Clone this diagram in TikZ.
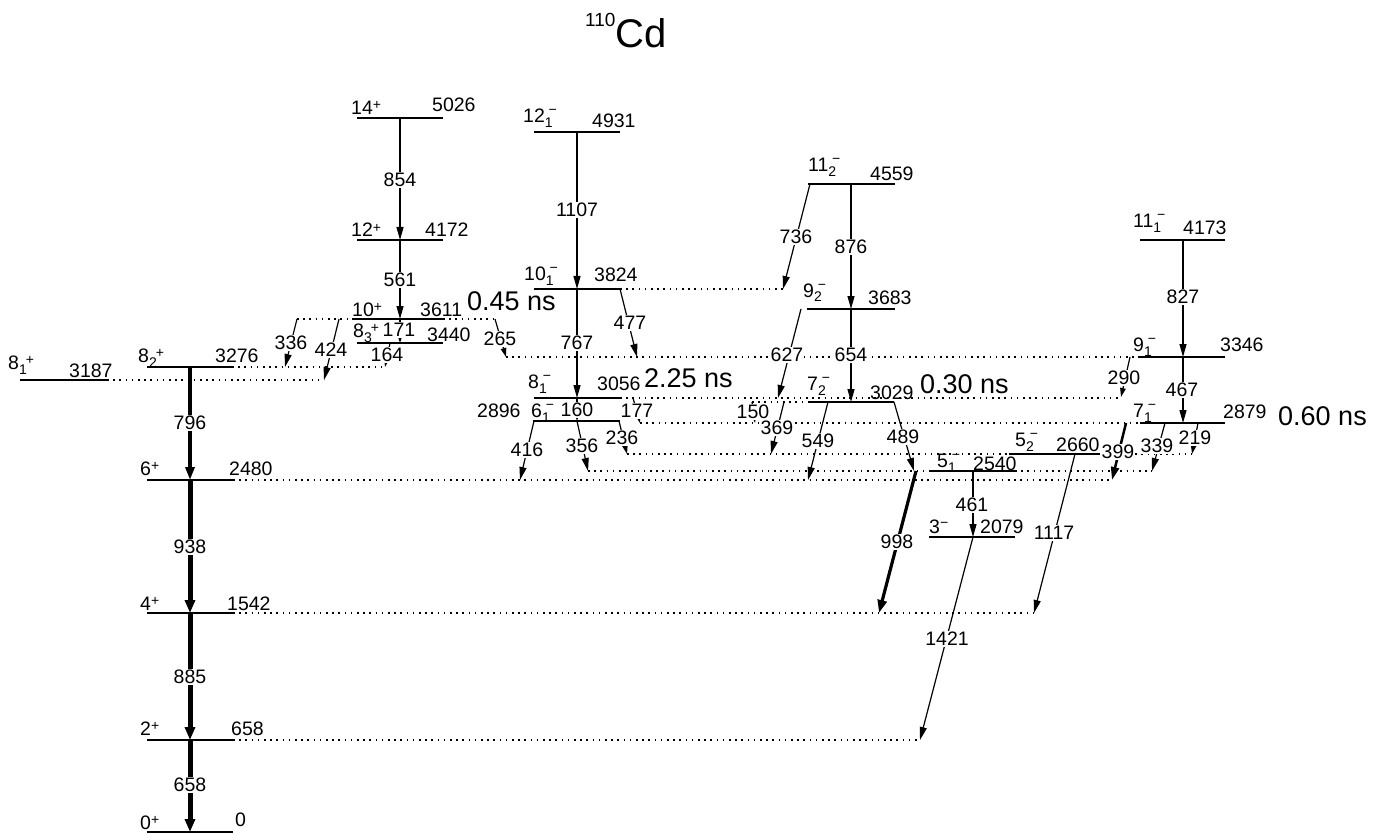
\documentclass[tikz,border=0pt]{standalone}
\usepackage{fontspec}
\setmainfont{Liberation Sans}
\usetikzlibrary{arrows.meta}
\newcommand\lbl{\fontsize{19.5}{21}\selectfont}
\newcommand\sbs[1]{\raisebox{-5pt}{\fontsize{14}{14}\selectfont #1}}
\newcommand\pl{\raisebox{5pt}{\fontsize{14}{14}\selectfont +}}
\newcommand\mi{\raisebox{8pt}{\fontsize{14}{14}\selectfont −}}
\newcommand\spp[2]{#1\sbs{#2}\kern-1pt\pl}
\newcommand\spm[2]{#1\sbs{#2}\kern-4pt\mi}
\tikzset{
  lvl/.style={line width=1.4pt},
  ext/.style={line width=1.3pt, dash pattern=on 1.6pt off 4.6pt},
  tr/.style={line width=1.2pt, -{Triangle[length=13pt,width=7pt]}},
  trs/.style={line width=1.2pt, -{Triangle[length=9pt,width=5.5pt]}},
  trII/.style={line width=2.5pt, -{Triangle[length=13pt,width=8pt]}},
  trIII/.style={line width=3.2pt, -{Triangle[length=13pt,width=9pt]}},
  trV/.style={line width=5pt, -{Triangle[length=13pt,width=10pt]}},
  lab/.style={fill=white, inner sep=1pt, font=\lbl},
  txt/.style={anchor=base west, inner sep=0pt, font=\lbl},
  big/.style={anchor=base west, inner sep=0pt, font=\fontsize{27}{29}\selectfont},
}
\begin{document}
\begin{tikzpicture}[x=1pt, y=-1pt]
\useasboundingbox (0,0) rectangle (1386,834);
% title
\node[anchor=base west, inner sep=0pt] (title) at (585,48) {\raisebox{21pt}{\fontsize{19}{19}\selectfont 110}\fontsize{40}{40}\selectfont Cd};

% dotted level extensions
\draw[ext] (107,380) -- (324,380);
\draw[ext] (232,367) -- (385,367);
\draw[ext] (297,319) -- (352,319);
\draw[ext] (443,319) -- (495,319);
\draw[ext] (506,357) -- (1138,357);
\draw[ext] (620,289) -- (783,289);
\draw[ext] (620,398) -- (1121,398);
\draw[ext] (752,402) -- (808,402);
\draw[ext] (640,423) -- (1140,423);
\draw[ext] (627,454) -- (1009,454);
\draw[ext] (1098,454) -- (1192,454);
\draw[ext] (588,471) -- (930,471);
\draw[ext] (1015,471) -- (1152,471);
\draw[ext] (233,480) -- (1112,480);
\draw[ext] (233,613) -- (1034,613);
\draw[ext] (233,740) -- (920,740);

% levels
\draw[lvl] (147,832) -- (233,832);
\draw[lvl] (147,740) -- (233,740);
\draw[lvl] (147,613) -- (233,613);
\draw[lvl] (147,480) -- (233,480);
\draw[lvl] (147,367) -- (232,367);
\draw[lvl] (20,380) -- (107,380);
\draw[lvl] (357,343) -- (443,343);
\draw[lvl] (352,319) -- (443,319);
\draw[lvl] (357,240) -- (443,240);
\draw[lvl] (357,118) -- (443,118);
\draw[lvl] (534,132) -- (620,132);
\draw[lvl] (534,289) -- (620,289);
\draw[lvl] (534,398) -- (620,398);
\draw[lvl] (533,421) -- (620,421);
\draw[lvl] (808,184) -- (895,184);
\draw[lvl] (807,309) -- (895,309);
\draw[lvl] (808,402) -- (894,402);
\draw[lvl] (930,471) -- (1015,471);
\draw[lvl] (929,537) -- (1015,537);
\draw[lvl] (1009,454) -- (1098,454);
\draw[lvl] (1140,240) -- (1225,240);
\draw[lvl] (1138,357) -- (1225,357);
\draw[lvl] (1140,423) -- (1225,423);

% level labels
\node[txt] (s0) at (140,829) {0\pl};      \node[txt] (e0) at (235,826) {0};
\node[txt] (s2) at (140,735) {2\pl};      \node[txt] (e2) at (231,735) {658};
\node[txt] (s4) at (140,610) {4\pl};      \node[txt] (e4) at (227,610) {1542};
\node[txt] (s6) at (140,475) {6\pl};      \node[txt] (e6) at (229,475) {2480};
\node[txt] (s82p) at (138,362) {\spp{8}{2}}; \node[txt] (e82p) at (215,362) {3276};
\node[txt] (s81p) at (8,369) {\spp{8}{1}};   \node[txt] (e81p) at (69,377) {3187};
\node[txt] (s83p) at (353,337) {\spp{8}{3}}; \node[txt] (e83p) at (427,341) {3440};
\node[txt] (s10p) at (352,316) {10\pl};   \node[txt] (e10p) at (420,316) {3611};
\node[big] (t10p) at (467,310) {0.45 ns};
\node[txt] (s12p) at (351,237) {12\pl};   \node[txt] (e12p) at (425,237) {4172};
\node[txt] (s14p) at (351,115) {14\pl};   \node[txt] (e14p) at (432,112) {5026};
\node[txt] (s121m) at (523,123) {\spm{12}{1}}; \node[txt] (e121m) at (592,128) {4931};
\node[txt] (s101m) at (524,280) {\spm{10}{1}}; \node[txt] (e101m) at (594,282) {3824};
\node[txt] (s81m) at (528,388) {\spm{8}{1}};   \node[txt] (e81m) at (597,390) {3056};
\node[big] (t81m) at (644,387) {2.25 ns};
\node[txt] (s61m) at (531,417) {\spm{6}{1}};   \node[txt] (e61m) at (477,417) {2896};
\node[txt] (s112m) at (808,172) {\spm{11}{2}}; \node[txt] (e112m) at (870,181) {4559};
\node[txt] (s92m) at (803,297) {\spm{9}{2}};   \node[txt] (e92m) at (868,305) {3683};
\node[txt] (s72m) at (807,390) {\spm{7}{2}};   \node[txt] (e72m) at (870,399) {3029};
\node[big] (t72m) at (920,393) {0.30 ns};
\node[txt] (s51m) at (937,467) {\spm{5}{1}};   \node[txt] (e51m) at (973,470) {2540};
\node[txt] (s3m) at (929,533) {3\raisebox{6pt}{\fontsize{14}{14}\selectfont −}}; \node[txt] (e3m) at (980,533) {2079};
\node[txt] (s52m) at (1015,446) {\spm{5}{2}};  \node[txt] (e52m) at (1056,451) {2660};
\node[txt] (s111m) at (1133,228) {\spm{11}{1}}; \node[txt] (e111m) at (1183,235) {4173};
\node[txt] (s91m) at (1133,351) {\spm{9}{1}};  \node[txt] (e91m) at (1220,351) {3346};
\node[txt] (s71m) at (1133,417) {\spm{7}{1}};  \node[txt] (e71m) at (1223,418) {2879};
\node[big] (t71m) at (1278,425) {0.60 ns};

% transitions
\draw[tr] (400,118) -- (400,240);   \node[lab] (g854) at (400,180) {854};
\draw[tr] (400,240) -- (400,319);   \node[lab] (g561) at (400,280) {561};
\draw[trs] (400,319) -- (400,343);  \node[lab] (g171) at (399,330) {171};
\draw[trs] (390,343) -- (385,367);  \node[lab] (g164) at (387,355) {164};
\draw[tr] (297,319) -- (285,367);   \node[lab] (g336) at (291,343) {336};
\draw[tr] (339,319) -- (324,380);   \node[lab] (g424) at (331,350) {424};
\draw[trs] (495,319) -- (506,357);  \node[lab] (g265) at (500,339) {265};
\draw[trIII] (190,367) -- (190,480); \node[lab] (g796) at (190,423) {796};
\draw[trV] (190,480) -- (190,613);   \node[lab] (g938) at (190,547) {938};
\draw[trV] (190,613) -- (190,740);   \node[lab] (g885) at (190,677) {885};
\draw[trV] (190,740) -- (190,832);   \node[lab] (g658) at (190,785) {658};
\draw[tr] (577,132) -- (577,289);   \node[lab] (g1107) at (577,210) {1107};
\draw[tr] (577,289) -- (577,398);   \node[lab] (g767) at (577,343) {767};
\draw[tr] (620,289) -- (637,357);   \node[lab] (g477) at (630,323) {477};
\draw[trs] (577,398) -- (577,421);  \node[lab] (g160) at (577,410) {160};
\draw[trs] (633,398) -- (640,423);  \node[lab] (g177) at (637,411) {177};
\draw[tr] (534,421) -- (520,480);   \node[lab] (g416) at (527,450) {416};
\draw[tr] (577,421) -- (588,471);   \node[lab] (g356) at (582,446) {356};
\draw[trs] (619,421) -- (627,454);  \node[lab] (g236) at (622,438) {236};
\draw[tr] (810,184) -- (783,289);   \node[lab] (g736) at (796,237) {736};
\draw[tr] (851,184) -- (851,309);   \node[lab] (g876) at (851,247) {876};
\draw[tr] (801,309) -- (778,398);   \node[lab] (g627) at (787,355) {627};
\draw[tr] (851,309) -- (851,402);   \node[lab] (g654) at (851,355) {654};
\draw[trs] (752,402) -- (755,423);  \node[lab] (g150) at (753,412) {150};
\draw[tr] (784,402) -- (771,454);   \node[lab] (g369) at (777,428) {369};
\draw[tr] (828,402) -- (808,480);   \node[lab] (g549) at (818,441) {549};
\draw[tr] (894,402) -- (914,471);   \node[lab] (g489) at (903,437) {489};
\draw[trIII] (916,471) -- (879,613); \node[lab] (g998) at (897,542) {998};
\draw[tr] (973,471) -- (973,537);   \node[lab] (g461) at (972,505) {461};
\draw[tr] (973,537) -- (920,740);   \node[lab] (g1421) at (947,639) {1421};
\draw[tr] (1075,454) -- (1034,613); \node[lab] (g1117) at (1054,533) {1117};
\draw[tr] (1183,240) -- (1183,357); \node[lab] (g827) at (1183,297) {827};
\draw[trs] (1130,357) -- (1121,397); \node[lab] (g290) at (1124,378) {290};
\draw[tr] (1183,357) -- (1183,423); \node[lab] (g467) at (1182,390) {467};
\draw[trII] (1126,423) -- (1112,480); \node[lab] (g399) at (1118,452) {399};
\draw[tr] (1165,423) -- (1152,471); \node[lab] (g339) at (1157,446) {339};
\draw[trs] (1198,423) -- (1192,454); \node[lab] (g219) at (1195,438) {219};
\end{tikzpicture}
\end{document}
